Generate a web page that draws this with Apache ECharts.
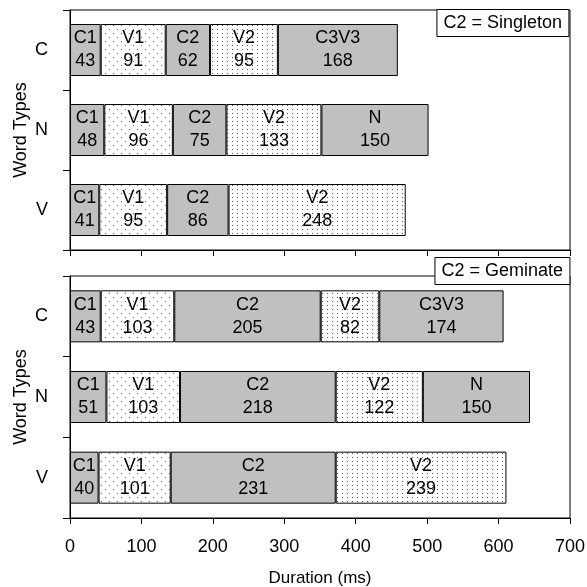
<!DOCTYPE html>
<html>
<head>
<meta charset="utf-8">
<script src="https://cdn.jsdelivr.net/npm/echarts@6/dist/echarts.min.js"></script>
<style>html,body{margin:0;padding:0;background:#fff;}#chart{width:587px;height:587px;}</style>
</head>
<body>
<div id="chart"></div>
<script>
// Categories (top to bottom)
var wordTypes = ['C', 'N', 'V'];
var xTicks = [0, 100, 200, 300, 400, 500, 600, 700];
var segmentNames = ['C1', 'V1', 'C2', 'V2'];
var finalNames = ['C3V3', 'N', ''];

// C2 = Singleton
var sC1 = [43, 48, 41];
var sV1 = [91, 96, 95];
var sC2 = [62, 75, 86];
var sV2 = [95, 133, 248];
var sFinal = [168, 150, null];

// C2 = Geminate
var gC1 = [43, 51, 40];
var gV1 = [103, 103, 101];
var gC2 = [205, 218, 231];
var gV2 = [82, 122, 239];
var gFinal = [174, 150, null];

function makePattern(w, h, dots, color) {
  var c = document.createElement('canvas');
  c.width = w; c.height = h;
  var ctx = c.getContext('2d');
  ctx.fillStyle = '#fff';
  ctx.fillRect(0, 0, w, h);
  ctx.fillStyle = color;
  dots.forEach(function (d) { ctx.fillRect(d[0], d[1], 1, 1); });
  return { image: c, repeat: 'repeat' };
}
var grayFill = '#c0c0c0';
var v1Fill = makePattern(8, 8, [[1, 1], [5, 5]], '#666');
var v2Fill = makePattern(5, 4, [[2, 1]], '#555');

var FONT = 'Liberation Sans, Arial, sans-serif';

function labelFor(name) {
  return {
    show: true,
    position: 'inside',
    color: '#000',
    fontSize: 18,
    fontFamily: FONT,
    lineHeight: 23,
    formatter: function (p) {
      if (p.value == null) return '';
      var n = name === 'final' ? finalNames[p.dataIndex] : name;
      return n + '\n' + p.value;
    }
  };
}

function makeSeries(idx, arrs) {
  var fills = [grayFill, v1Fill, grayFill, v2Fill, grayFill];
  var names = ['C1', 'V1', 'C2', 'V2', 'final'];
  return arrs.map(function (arr, i) {
    return {
      type: 'bar',
      name: names[i],
      stack: 'g' + idx,
      xAxisIndex: idx,
      yAxisIndex: idx,
      barWidth: 52,
      data: arr,
      itemStyle: { color: fills[i], borderColor: '#000', borderWidth: 1 },
      label: labelFor(names[i]),
      silent: true,
      animation: false
    };
  });
}

function xAxis(idx, showLabels) {
  return {
    type: 'value',
    gridIndex: idx,
    min: 0, max: 700, interval: 100,
    splitLine: { show: false },
    axisLine: { show: true, lineStyle: { color: '#000', width: 1 } },
    axisTick: { show: true, length: 6, lineStyle: { color: '#000' } },
    axisLabel: { show: showLabels, color: '#000', fontSize: 18, fontFamily: FONT, margin: 20,
      formatter: function (v) { return xTicks.indexOf(v) >= 0 ? String(v) : ''; } },
    name: showLabels ? 'Duration (ms)' : '',
    nameLocation: 'middle',
    nameGap: 52,
    nameTextStyle: { color: '#000', fontSize: 17, fontFamily: FONT }
  };
}

function yAxis(idx) {
  return {
    type: 'category',
    gridIndex: idx,
    data: wordTypes,
    inverse: true,
    axisLine: { show: true, lineStyle: { color: '#000', width: 1 } },
    axisTick: { show: true, length: 7, lineStyle: { color: '#000' } },
    axisLabel: { color: '#000', fontSize: 18, fontFamily: FONT, margin: 22 },
    name: 'Word Types',
    nameLocation: 'middle',
    nameRotate: 90,
    nameGap: 40,
    nameMoveOverlap: false,
    nameTextStyle: { color: '#000', fontSize: 18, fontFamily: FONT }
  };
}

var chart = echarts.init(document.getElementById('chart'), null, { renderer: 'canvas' });
chart.setOption({
  backgroundColor: '#fff',
  animation: false,
  title: [
    { text: 'C2 = Singleton', right: 18, top: 9, padding: [4, 7, 3, 7], backgroundColor: '#fff', borderColor: '#000', borderWidth: 1,
      textStyle: { color: '#000', fontSize: 18, fontWeight: 'normal', fontFamily: FONT, lineHeight: 21 } },
    { text: 'C2 = Geminate', right: 17, top: 257, padding: [4, 7, 3, 7], backgroundColor: '#fff', borderColor: '#000', borderWidth: 1,
      textStyle: { color: '#000', fontSize: 18, fontWeight: 'normal', fontFamily: FONT, lineHeight: 21 } }
  ],
  grid: [
    { left: 70, top: 10, width: 500, height: 240, show: true, borderColor: '#000', borderWidth: 1, backgroundColor: 'transparent', outerBoundsMode: 'none', containLabel: false },
    { left: 70, top: 276, width: 500, height: 242, show: true, borderColor: '#000', borderWidth: 1, backgroundColor: 'transparent', outerBoundsMode: 'none', containLabel: false }
  ],
  xAxis: [xAxis(0, false), xAxis(1, true)],
  yAxis: [yAxis(0), yAxis(1)],
  series: makeSeries(0, [sC1, sV1, sC2, sV2, sFinal]).concat(makeSeries(1, [gC1, gV1, gC2, gV2, gFinal]))
});
</script>
</body>
</html>
